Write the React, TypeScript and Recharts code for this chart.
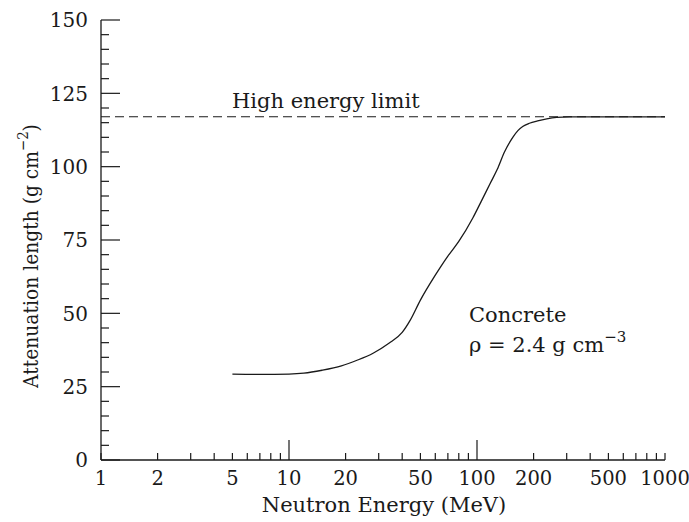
import { CartesianGrid, Customized, Line, LineChart, ReferenceLine, XAxis, YAxis } from "recharts";

// neutron energy (MeV) and attenuation length (g cm^-2) in concrete
const energy = [5, 7, 10, 12, 15, 19, 23, 28, 34, 40, 44, 50, 60, 70, 80, 95, 105, 118, 128, 140, 155, 165, 175, 190, 210, 235, 265, 310, 500, 1000];
const attenuation = [29.3, 29.2, 29.3, 29.6, 30.6, 32.1, 34.0, 36.4, 39.8, 43.5, 47.5, 54.5, 63.0, 69.5, 74.5, 82.5, 88.0, 94.5, 99.0, 105.0, 110.0, 112.3, 113.7, 114.8, 115.6, 116.3, 116.8, 117.0, 117.0, 117.0];
const highEnergyLimit = 117;

const xTicks = [1, 2, 3, 4, 5, 6, 7, 8, 9, 10, 20, 30, 40, 50, 60, 70, 80, 90, 100, 200, 300, 400, 500, 600, 700, 800, 900, 1000];
const xLabels = [1, 2, 5, 10, 20, 50, 100, 200, 500, 1000];
const xMajor = [10, 100];
const yTicks = [0, 5, 10, 15, 20, 25, 30, 35, 40, 45, 50, 55, 60, 65, 70, 75, 80, 85, 90, 95, 100, 105, 110, 115, 120, 125, 130, 135, 140, 145, 150];
const yLabels = [0, 25, 50, 75, 100, 125, 150];

const data = energy.map((e, i) => ({ energy: e, att: attenuation[i] }));

const FONT = "'DejaVu Serif', serif";
const INK = "#1a1a1a";

function BottomTick({ x, y, payload }: any) {
  const v = payload.value;
  const len = xMajor.includes(v) ? 20 : 7;
  return (
    <g>
      <line x1={x} y1={y} x2={x} y2={y - len} stroke={INK} strokeWidth={1.2} />
      {xLabels.includes(v) && (
        <text x={x} y={y + 25} textAnchor="middle" fontFamily={FONT} fontSize={19.5} fill={INK}>
          {v}
        </text>
      )}
    </g>
  );
}

function TopTick({ x, y, payload }: any) {
  const len = xMajor.includes(payload.value) ? 20 : 7;
  return <line x1={x} y1={y} x2={x} y2={y + len} stroke={INK} strokeWidth={1.2} />;
}

function LeftTick({ x, y, payload }: any) {
  const v = payload.value;
  const major = yLabels.includes(v);
  return (
    <g>
      <line x1={x} y1={y} x2={x + (major ? 19 : 8)} y2={y} stroke={INK} strokeWidth={1.2} />
      {major && (
        <text x={x - 13} y={y} dy="0.36em" textAnchor="end" fontFamily={FONT} fontSize={20} fill={INK}>
          {v}
        </text>
      )}
    </g>
  );
}

function RightTick({ x, y, payload }: any) {
  const len = yLabels.includes(payload.value) ? 19 : 8;
  return <line x1={x} y1={y} x2={x - len} y2={y} stroke={INK} strokeWidth={1.2} />;
}

function Annotations({ offset }: any) {
  const left = offset?.left ?? 101;
  const top = offset?.top ?? 20;
  return (
    <g fontFamily={FONT} fill={INK} fontSize={21}>
      <text x={left + 131} y={top + 88}>High energy limit</text>
      <text x={left + 368} y={top + 302}>Concrete</text>
      <text x={left + 368} y={top + 332}>
        ρ = 2.4 g cm
        <tspan fontSize={15} dy={-10}>−3</tspan>
      </text>
      <text transform={`translate(38, ${top + 236}) rotate(-90) scale(0.89, 1)`} textAnchor="middle">
        Attenuation length (g cm
        <tspan fontSize={15} dy={-10}>−2</tspan>
        <tspan dy={10}>)</tspan>
      </text>
      <text x={left + 283} y={top + 492} textAnchor="middle">
        Neutron Energy (MeV)
      </text>
    </g>
  );
}

export default function App() {
  return (
    <div style={{ position: "absolute", left: 0, top: 0, background: "#fff" }}>
      <LineChart width={689} height={522} data={data} margin={{ top: 20, right: 24, bottom: 0, left: 0 }}>
        <CartesianGrid stroke="none" />
        <XAxis
          dataKey="energy"
          type="number"
          scale="log"
          domain={[1, 1000]}
          ticks={xTicks}
          interval={0}
          height={62}
          tickSize={0}
          tickMargin={0}
          tickLine={false}
          axisLine={{ stroke: INK, strokeWidth: 1.3 }}
          tick={<BottomTick />}
          allowDataOverflow
        />
        <XAxis
          xAxisId="top"
          orientation="top"
          dataKey="energy"
          type="number"
          scale="log"
          domain={[1, 1000]}
          ticks={xTicks}
          interval={0}
          height={0}
          tickSize={0}
          tickMargin={0}
          tickLine={false}
          axisLine={{ stroke: INK, strokeWidth: 1.3 }}
          tick={<TopTick />}
          allowDataOverflow
        />
        <YAxis
          type="number"
          domain={[0, 150]}
          ticks={yTicks}
          interval={0}
          width={101}
          tickSize={0}
          tickMargin={0}
          tickLine={false}
          axisLine={{ stroke: INK, strokeWidth: 1.3 }}
          tick={<LeftTick />}
        />
        <YAxis
          yAxisId="right"
          orientation="right"
          type="number"
          domain={[0, 150]}
          ticks={yTicks}
          interval={0}
          width={0}
          tickSize={0}
          tickMargin={0}
          tickLine={false}
          axisLine={{ stroke: INK, strokeWidth: 1.3 }}
          tick={<RightTick />}
        />
        <ReferenceLine y={highEnergyLimit} stroke={INK} strokeWidth={1.1} strokeDasharray="9 5" />
        <Line
          dataKey="att"
          type="monotone"
          stroke={INK}
          strokeWidth={1.3}
          dot={false}
          isAnimationActive={false}
        />
        <Customized component={Annotations} />
      </LineChart>
    </div>
  );
}
